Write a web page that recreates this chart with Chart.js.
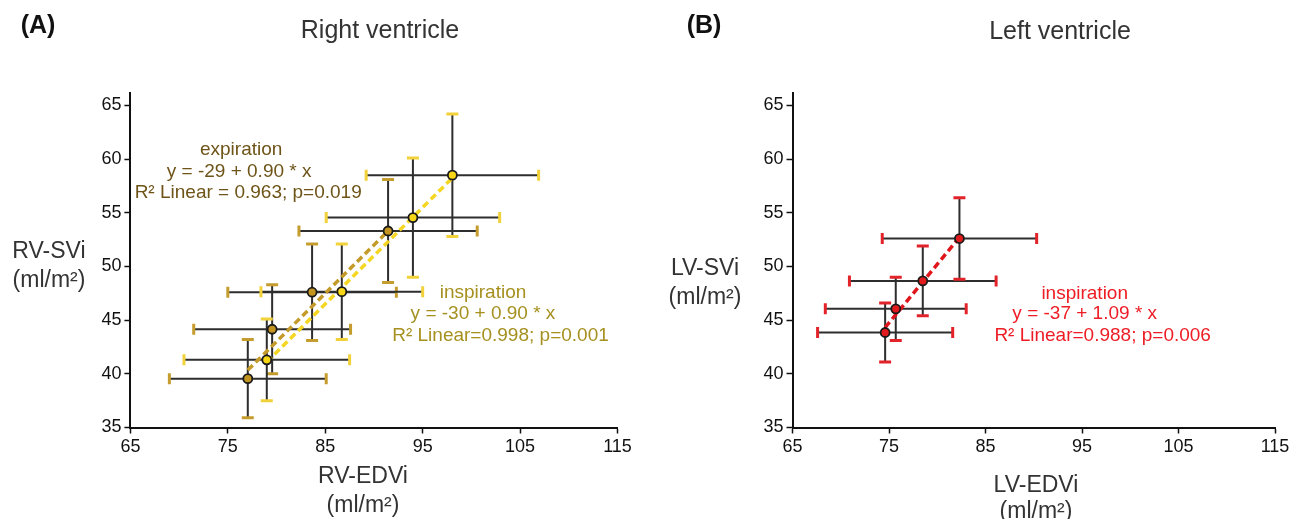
<!DOCTYPE html>
<html>
<head>
<meta charset="utf-8">
<script src="https://cdn.jsdelivr.net/npm/chart.js@4.4.1/dist/chart.umd.min.js"></script>
<style>
  body { margin: 0; background: #fff; font-family: "Liberation Sans", Arial, sans-serif; }
  #wrap { position: relative; width: 1301px; height: 519px; overflow: hidden; }
  .box { position: absolute; top: 0; height: 519px; }
  .lbl { position: absolute; transform: translate(-50%, -50%); white-space: nowrap; line-height: 1; color: #222; }
  .axt { font-size: 23px; color: #333; }
</style>
</head>
<body>
<div id="wrap">
  <div class="box" style="left:0;width:650px"><canvas id="rvChart"></canvas></div>
  <div class="box" style="left:650px;width:651px"><canvas id="lvChart"></canvas></div>

  <div class="lbl" style="left:38px;top:24px;font-weight:bold;font-size:25px;color:#111">(A)</div>
  <div class="lbl" style="left:380px;top:29px;font-size:25px;color:#333">Right ventricle</div>
  <div class="lbl" style="left:704px;top:24px;font-weight:bold;font-size:25px;color:#111">(B)</div>
  <div class="lbl" style="left:1060px;top:30px;font-size:25px;color:#333">Left ventricle</div>

  <div class="lbl axt" style="left:49px;top:250px">RV-SVi</div>
  <div class="lbl axt" style="left:49px;top:279px">(ml/m²)</div>
  <div class="lbl axt" style="left:705px;top:267px">LV-SVi</div>
  <div class="lbl axt" style="left:705px;top:296px">(ml/m²)</div>

  <div class="lbl axt" style="left:363px;top:475px">RV-EDVi</div>
  <div class="lbl axt" style="left:363px;top:504px">(ml/m²)</div>
  <div class="lbl axt" style="left:1036px;top:484px">LV-EDVi</div>
  <div class="lbl axt" style="left:1036px;top:510px">(ml/m²)</div>
</div>

<script>
// right ventricle, expiration
const rvExpEdvi = [77.05, 79.55, 83.65, 91.45];
const rvExpEdviSd = [8.05, 8.05, 8.65, 9.15];
const rvExpSvi = [39.55, 44.15, 47.6, 53.3];
const rvExpSviSd = [3.65, 4.15, 4.5, 4.8];
// right ventricle, inspiration
const rvInspEdvi = [79.0, 86.7, 94.0, 98.05];
const rvInspEdviSd = [8.5, 8.3, 8.9, 8.85];
const rvInspSvi = [41.3, 47.65, 54.55, 58.5];
const rvInspSviSd = [3.8, 4.45, 5.55, 5.7];
// left ventricle, inspiration
const lvInspEdvi = [74.6, 75.7, 78.5, 82.3];
const lvInspEdviSd = [7.0, 7.3, 7.6, 8.0];
const lvInspSvi = [43.85, 46.05, 48.65, 52.6];
const lvInspSviSd = [2.75, 2.95, 3.25, 3.8];
// regression: [intercept, slope]
const rvExpFit = [-29, 0.90];
const rvInspFit = [-30, 0.90];
const lvInspFit = [-37, 1.09];

const xTicks = [65, 75, 85, 95, 105, 115];
const yTicks = [35, 40, 45, 50, 55, 60, 65];

const rvExpText = ["expiration", "y = -29 + 0.90 * x", "R² Linear = 0.963; p=0.019"];
const rvInspText = ["inspiration", "y = -30 + 0.90 * x", "R² Linear=0.998; p=0.001"];
const lvInspText = ["inspiration", "y = -37 + 1.09 * x", "R² Linear=0.988; p=0.006"];

const FONT = "'Liberation Sans', Arial, sans-serif";

const pts = (xs, ys) => xs.map((x, i) => ({ x, y: ys[i] }));
const fitLine = (xs, fit) => {
  const lo = Math.min(...xs), hi = Math.max(...xs);
  return [{ x: lo, y: fit[0] + fit[1] * lo }, { x: hi, y: fit[0] + fit[1] * hi }];
};

// error bars: dark bar, coloured caps, under the points
const errorBars = {
  id: "errorBars",
  beforeDatasetsDraw(chart) {
    const { ctx, scales: { x, y } } = chart;
    ctx.save();
    chart.data.datasets.forEach((ds) => {
      if (!ds.errX) return;
      ds.data.forEach((p, i) => {
        const px = x.getPixelForValue(p.x), py = y.getPixelForValue(p.y);
        const x0 = x.getPixelForValue(p.x - ds.errX[i]), x1 = x.getPixelForValue(p.x + ds.errX[i]);
        const y0 = y.getPixelForValue(p.y - ds.errY[i]), y1 = y.getPixelForValue(p.y + ds.errY[i]);
        ctx.strokeStyle = "#2e2e2e";
        ctx.lineWidth = 2;
        ctx.beginPath();
        ctx.moveTo(x0, py); ctx.lineTo(x1, py);
        ctx.moveTo(px, y0); ctx.lineTo(px, y1);
        ctx.stroke();
        ctx.strokeStyle = ds.capColor;
        ctx.lineWidth = 3;
        ctx.beginPath();
        ctx.moveTo(x0, py - 5.5); ctx.lineTo(x0, py + 5.5);
        ctx.moveTo(x1, py - 5.5); ctx.lineTo(x1, py + 5.5);
        ctx.moveTo(px - 6, y0); ctx.lineTo(px + 6, y0);
        ctx.moveTo(px - 6, y1); ctx.lineTo(px + 6, y1);
        ctx.stroke();
      });
    });
    ctx.restore();
  }
};

// regression text blocks placed in data units
const notesPlugin = (notes) => ({
  id: "notes",
  afterDatasetsDraw(chart) {
    const { ctx, scales: { x, y } } = chart;
    ctx.save();
    ctx.font = "19px " + FONT;
    ctx.textAlign = "center";
    ctx.textBaseline = "middle";
    notes.forEach((n) => {
      ctx.fillStyle = n.color;
      n.lines.forEach((t, i) => {
        ctx.fillText(t, x.getPixelForValue(n.xs[i]), y.getPixelForValue(n.ys[i]));
      });
    });
    ctx.restore();
  }
});

function axis(min, max, ticks, fit) {
  return {
    type: "linear", min, max,
    afterFit: fit,
    afterBuildTicks: (s) => { s.ticks = ticks.map((v) => ({ value: v })); },
    ticks: { color: "#111", font: { size: 18, family: FONT }, padding: 3, maxRotation: 0 },
    grid: { display: true, drawOnChartArea: false, drawTicks: true, tickLength: 6, tickColor: "#111", tickWidth: 1.5 },
    border: { display: true, color: "#111", width: 2 }
  };
}

function makeChart(id, datasets, padding, notes) {
  return new Chart(document.getElementById(id), {
    type: "scatter",
    data: { datasets },
    options: {
      responsive: true,
      maintainAspectRatio: false,
      animation: false,
      layout: { padding },
      plugins: { legend: { display: false }, tooltip: { enabled: false } },
      scales: {
        x: axis(65, 115, xTicks, (s) => { s.height = 30; }),
        y: axis(35, 66.2, yTicks, (s) => { s.width = 40; })
      }
    },
    plugins: [errorBars, notesPlugin(notes)]
  });
}

const dot = (fill) => ({ pointRadius: 4.5, pointBorderWidth: 1.8, pointBorderColor: "#1a1a1a", pointBackgroundColor: fill, showLine: false, order: 1 });
const dash = (color) => ({ showLine: true, borderColor: color, borderWidth: 3.5, borderDash: [7, 4], pointRadius: 0, order: 2 });

makeChart("rvChart", [
  { label: "expiration", data: pts(rvExpEdvi, rvExpSvi), errX: rvExpEdviSd, errY: rvExpSviSd, capColor: "#c59d2e", ...dot("#c3941f") },
  { label: "inspiration", data: pts(rvInspEdvi, rvInspSvi), errX: rvInspEdviSd, errY: rvInspSviSd, capColor: "#f1d23a", ...dot("#f7d616") },
  { label: "expiration fit", data: fitLine(rvExpEdvi, rvExpFit), ...dash("#c49a2a") },
  { label: "inspiration fit", data: fitLine(rvInspEdvi, rvInspFit), ...dash("#f5d622") }
], { left: 90.4, right: 32.5, top: 92.5, bottom: 61.5 }, [
  { lines: rvExpText, color: "#6e5418", xs: [76.37, 76.16, 77.09], ys: [60.9, 58.84, 56.88] },
  { lines: rvInspText, color: "#a6901f", xs: [101.19, 101.19, 102.99], ys: [47.59, 45.63, 43.55] }
]);

makeChart("lvChart", [
  { label: "inspiration", data: pts(lvInspEdvi, lvInspSvi), errX: lvInspEdviSd, errY: lvInspSviSd, capColor: "#e3232a", ...dot("#e11b1d") },
  { label: "inspiration fit", data: fitLine(lvInspEdvi, lvInspFit), ...dash("#e0161c") }
], { left: 102.5, right: 26, top: 92.5, bottom: 61.5 }, [
  { lines: lvInspText, color: "#ee1c25", xs: [95.28, 95.28, 97.14], ys: [47.5, 45.57, 43.55] }
]);
</script>
</body>
</html>
